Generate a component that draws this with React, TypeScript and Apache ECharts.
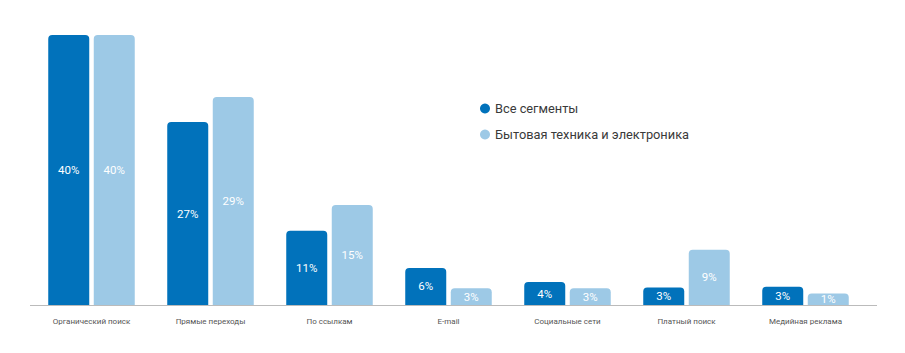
import React, { useEffect, useRef } from "react";
import * as echarts from "echarts";

const categories = [
  "Органический поиск",
  "Прямые переходы",
  "По ссылкам",
  "E-mail",
  "Социальные сети",
  "Платный поиск",
  "Медийная реклама",
];
const seriesNames = ["Все сегменты", "Бытовая техника и электроника"];
const allSegments = [40, 27.1, 11, 5.5, 3.4, 2.6, 2.7];
const allSegmentsLabels = ["40%", "27%", "11%", "6%", "4%", "3%", "3%"];
const electronics = [40, 30.8, 14.8, 2.5, 2.5, 8.2, 1.7];
const electronicsLabels = ["40%", "29%", "15%", "3%", "3%", "9%", "1%"];

const COLORS = ["#0172BB", "#9DC9E6"];

export default function App() {
  const ref = useRef<HTMLDivElement>(null);
  useEffect(() => {
    if (!ref.current) return;
    const chart = echarts.init(ref.current, null, { renderer: "svg" });
    const makeSeries = (name: string, data: number[], labels: string[], color: string) => ({
      name,
      type: "bar",
      data,
      barWidth: 41,
      barGap: "11%",
      itemStyle: { color, borderRadius: [4, 4, 0, 0] },
      label: {
        show: true,
        position: "inside",
        color: "#ffffff",
        fontSize: 11.5,
        fontWeight: "normal",
        fontFamily: "Roboto",
        formatter: (p: any) => labels[p.dataIndex],
      },
    });
    chart.setOption({
      animation: false,
      textStyle: { fontFamily: "Roboto" },
      color: COLORS,
      grid: { left: 32, right: 40, top: 35, bottom: 48, containLabel: false },
      legend: {
        orient: "vertical",
        left: 475,
        top: 97,
        icon: "circle",
        itemWidth: 10,
        itemHeight: 10,
        itemGap: 13,
        data: seriesNames,
        textStyle: { fontSize: 12.8, color: "#3a3a3a", fontFamily: "Roboto", padding: [0, 0, 0, 0] },
      },
      xAxis: {
        type: "category",
        data: categories,
        axisLine: { show: false },
        axisTick: { show: false },
        axisLabel: { fontSize: 8, color: "#555555", margin: 12, fontFamily: "Roboto" },
      },
      yAxis: {
        type: "value",
        min: 0,
        max: 40,
        show: false,
        splitLine: { show: false },
      },
      graphic: [
        {
          type: "line",
          shape: { x1: 30, y1: 305.5, x2: 877, y2: 305.5 },
          style: { stroke: "#BBBBBB", lineWidth: 1 },
          z: 10,
        },
      ],
      series: [
        makeSeries(seriesNames[0], allSegments, allSegmentsLabels, COLORS[0]),
        makeSeries(seriesNames[1], electronics, electronicsLabels, COLORS[1]),
      ],
    });
    return () => chart.dispose();
  }, []);
  return (
    <div
      ref={ref}
      style={{ position: "absolute", left: 0, top: 0, width: 905, height: 353, background: "#fff" }}
    />
  );
}
